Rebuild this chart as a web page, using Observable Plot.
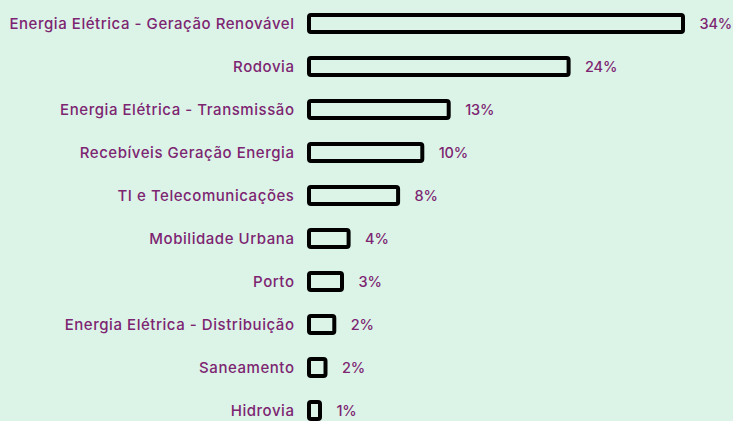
<!DOCTYPE html>
<html><head><meta charset="utf-8">
<script src="https://cdn.jsdelivr.net/npm/d3@7"></script>
<script src="https://cdn.jsdelivr.net/npm/@observablehq/plot@0.6"></script>
<style>html,body{margin:0;padding:0;background:#dcf4e8;overflow:hidden}
svg g[aria-label="y-axis tick label"] text{letter-spacing:0.55px}
svg g[aria-label="text"] text{letter-spacing:-0.2px}</style>
</head><body><div id="chart"></div>
<script>
const categories = [
  "Energia Elétrica - Geração Renovável",
  "Rodovia",
  "Energia Elétrica - Transmissão",
  "Recebíveis Geração Energia",
  "TI e Telecomunicações",
  "Mobilidade Urbana",
  "Porto",
  "Energia Elétrica - Distribuição",
  "Saneamento",
  "Hidrovia"
];
const values = [34.0, 23.6, 12.7, 10.3, 8.1, 3.6, 3.0, 2.3, 1.5, 1.0];
const valueLabels = ["34%", "24%", "13%", "10%", "8%", "4%", "3%", "2%", "2%", "1%"];

const data = categories.map((c, i) => ({category: c, value: values[i], label: valueLabels[i]}));
const bg = "#dcf4e8";
const purple = "#7d2571";

const chart = Plot.plot({
  width: 733,
  height: 421,
  marginLeft: 309,
  marginRight: 50,
  marginTop: 0,
  marginBottom: 0,
  style: {background: bg, fontFamily: "Inter, sans-serif", fontSize: "15px", fontWeight: 500, color: purple, overflow: "visible"},
  x: {domain: [0, 34], axis: null},
  y: {domain: categories, range: [-0.5, 433.5], padding: 0, label: null, tickSize: 0, tickPadding: 15},
  marks: [
    Plot.barX(data, {x: "value", y: "category", fill: bg, stroke: "#000", strokeWidth: 4, insetTop: 13, insetBottom: 13, rx: 2}),
    Plot.text(data, {x: "value", y: "category", text: "label", dx: 16, textAnchor: "start", fill: purple, fontSize: 14.5})
  ]
});
document.getElementById("chart").appendChild(chart);
</script>
</body></html>
